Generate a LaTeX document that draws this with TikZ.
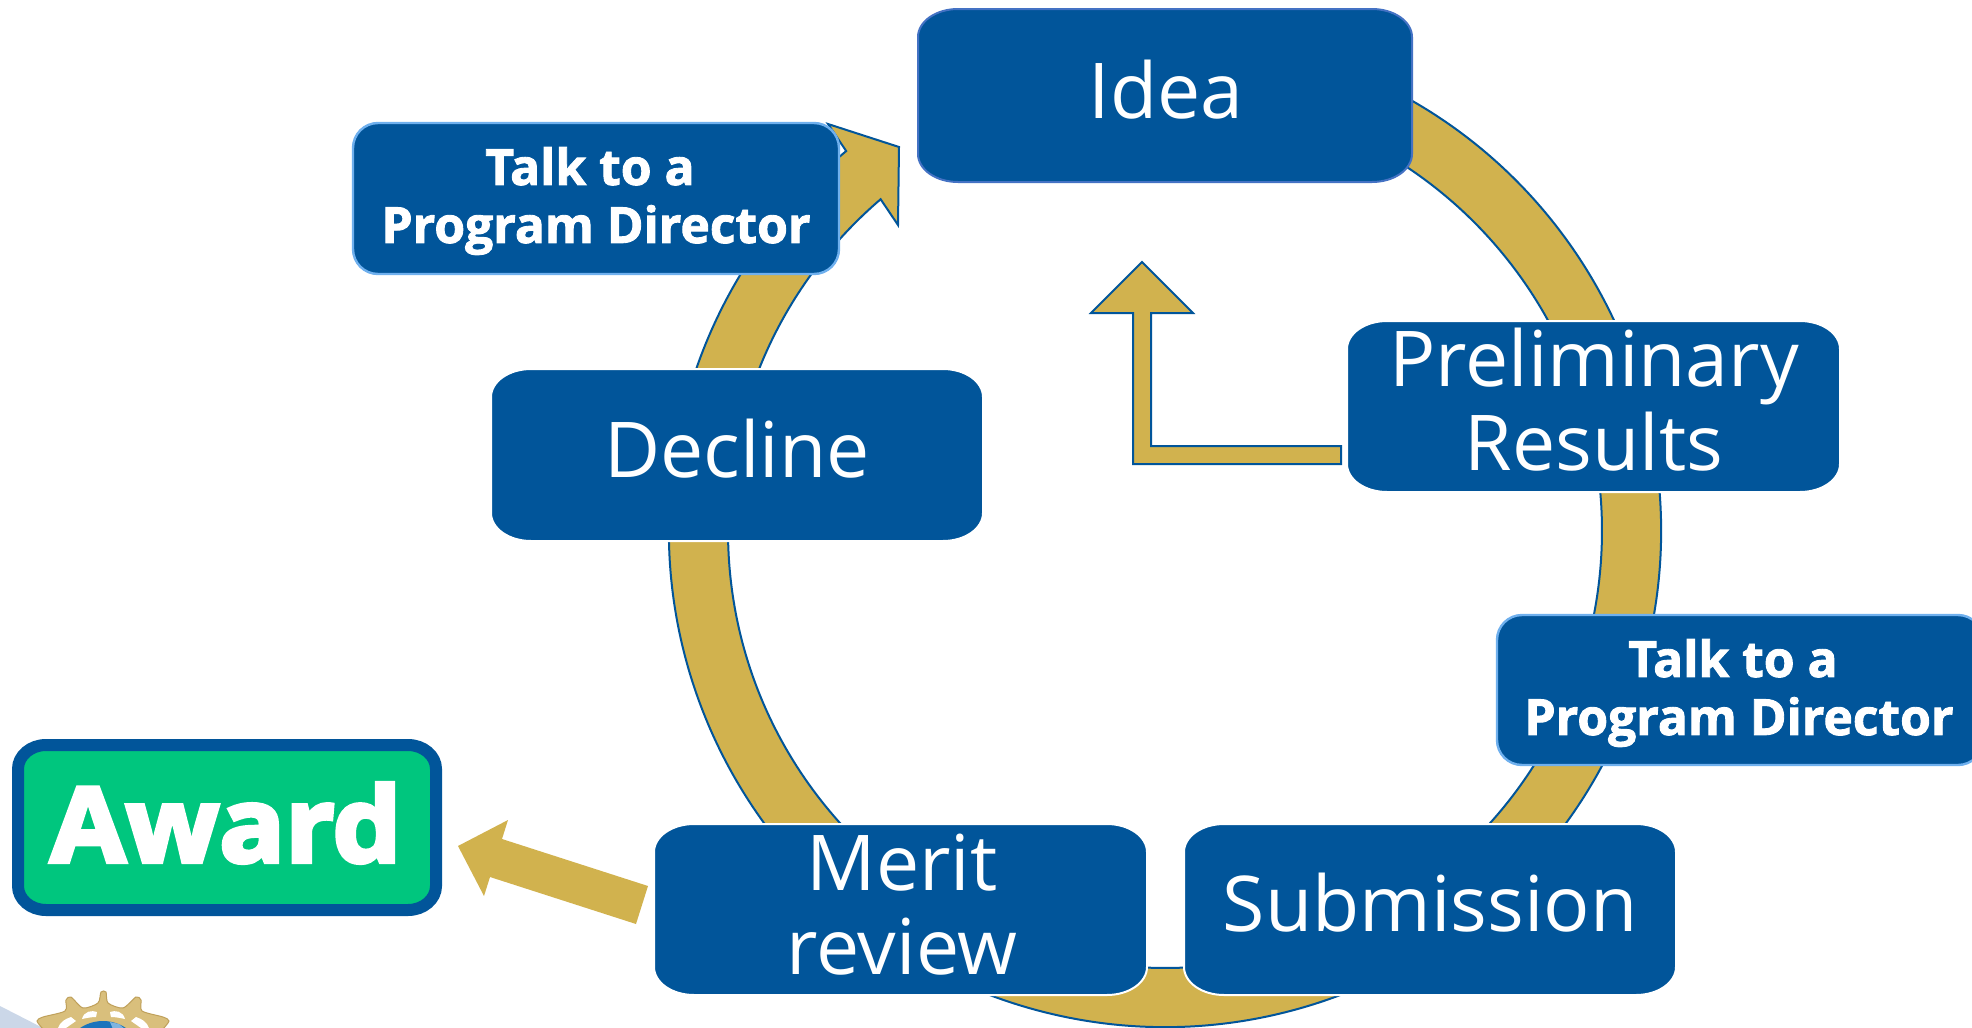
\documentclass[tikz,border=0pt]{standalone}
\usepackage{fontspec}
\usetikzlibrary{calc}
\setmainfont{Open Sans}
\newfontfamily\heavyfont[FakeBold=1.8]{Open Sans}
\newfontfamily\blackfont[FakeBold=4,FakeStretch=1.05]{Open Sans}
\definecolor{nsfblue}{HTML}{01559A}
\definecolor{nsfgold}{HTML}{D1B24E}
\definecolor{nsfgreen}{HTML}{00C67E}
\definecolor{ideaedge}{HTML}{4472C4}
\definecolor{talkedge}{HTML}{6FB0EE}
\definecolor{wedge}{HTML}{CBD7E8}
\definecolor{geargold}{HTML}{D9BF7C}
\definecolor{gearedge}{HTML}{BFA05A}
\definecolor{globeblue}{HTML}{1A74BC}
\definecolor{globelight}{HTML}{7FB4E0}
\tikzset{
  ringshape/.style={fill=nsfgold,draw=nsfblue,line width=1pt,line join=miter},
  bigbox/.style={fill=nsfblue,draw=white,line width=1pt},
  ideabox/.style={fill=nsfblue,draw=ideaedge,line width=1pt},
  talkbox/.style={fill=nsfblue,draw=talkedge,line width=1.2pt},
  bigtext/.style={text=white,font=\fontsize{38.5}{42}\selectfont,align=center,inner sep=0pt},
  talktext/.style={text=white,font=\heavyfont\bfseries\fontsize{24.9}{29}\selectfont,align=center,inner sep=0pt},
}
\newcommand{\rbox}[7]{%
  \draw[#1] ({#2+#6},#3) -- ({#4-#6},#3)
    arc[start angle=-90,end angle=0,x radius=#6,y radius=#7]
    -- (#4,{#5-#7}) arc[start angle=0,end angle=90,x radius=#6,y radius=#7]
    -- ({#2+#6},#5) arc[start angle=90,end angle=180,x radius=#6,y radius=#7]
    -- (#2,{#3+#7}) arc[start angle=180,end angle=270,x radius=#6,y radius=#7]
    -- cycle;}
\begin{document}
\begin{tikzpicture}[x=0.5pt,y=0.5pt,yscale=-1]
\useasboundingbox[fill=white] (0,0) rectangle (1972,1028);
% logo
\fill[wedge] (0,1006) -- (43,1028) -- (0,1028) -- cycle;
\fill[fill=geargold,draw=gearedge,line width=0.5pt]
  plot[smooth,tension=0.45] coordinates {(43,1029) (37,1021) (43,1017) (65,1011) (66,1000) (71,997) (83,1008) (98,1003) (101,992) (106,992) (108,1003) (123,1008) (136,997) (141,1000) (142,1011) (163,1017) (169,1021) (163,1029)};
\fill[white] (82,1019) .. controls (84,1011) and (92,1010) .. (97,1012) -- (96,1017) .. controls (91,1017) and (87,1018) .. (82,1019) -- cycle;
\fill[white] (125,1019) .. controls (123,1011) and (115,1010) .. (110,1012) -- (111,1017) .. controls (116,1017) and (120,1018) .. (125,1019) -- cycle;
\fill[white] (58,1028) .. controls (60,1022) and (65,1019) .. (71,1017) -- (76,1021) -- (66,1028) -- cycle;
\fill[white] (149,1028) .. controls (147,1022) and (142,1019) .. (136,1017) -- (131,1021) -- (141,1028) -- cycle;
\fill[globeblue] (103,1062) circle[radius=41];
\fill[globelight] (110,1022) -- (119,1024) -- (126,1030) -- (113,1029) -- cycle;
% cycle arrow
\coordinate (c) at (1165,531);
\coordinate (tipa) at (828,124);
\coordinate (tipb) at (899,147);
\coordinate (tipc) at (898,225);
\draw[ringshape] ($(c)+(-72:496)$) arc[start angle=-72,end angle=230,radius=496]
  -- (tipa) -- (tipb) -- (tipc)
  -- ($(c)+(229.4:437)$) arc[start angle=229.4,end angle=-72,radius=437] -- cycle;
% bent arrow
\draw[ringshape] (1341,446) -- (1151,446) -- (1151,313) -- (1193,313) -- (1142,262) -- (1091,313) -- (1133,313) -- (1133,464) -- (1341,464) -- cycle;
% award arrow
\fill[nsfgold] (458,846) -- (508,820) -- (502,839) -- (648,886) -- (636,924) -- (490,877) -- (484,896) -- cycle;
% boxes
\rbox{ideabox}{918}{9}{1412}{182}{40}{28}
\node[bigtext] (idea) at (1166,90) {Idea};
\rbox{bigbox}{1347}{321}{1840}{492}{40}{28}
\node[bigtext] (prelim) at (1594,400) {Preliminary\\Results};
\rbox{talkbox}{1497}{615}{1983}{765}{25}{25}
\node[talktext] (talkb) at (1739,693) {Talk to a\hspace*{6pt}\\Program Director};
\rbox{bigbox}{1184}{824}{1676}{995}{40}{28}
\node[bigtext] (subm) at (1430,903) {Submission};
\rbox{bigbox}{654}{824}{1147}{995}{40}{28}
\node[bigtext] (merit) at (902,905) {Merit\\review};
\rbox{bigbox}{491}{369}{983}{541}{40}{28}
\node[bigtext] (decl) at (737,449) {Decline};
\rbox{talkbox}{353}{123}{839}{274}{25}{25}
\node[talktext] (talka) at (596,201) {Talk to a\hspace*{6pt}\\Program Director};
% award
\rbox{fill=nsfgreen,draw=nsfblue,line width=6pt}{18}{745}{436}{910}{28}{24}
\node[text=white,inner sep=0pt,font=\blackfont\bfseries\fontsize{52}{52}\selectfont] (award) at (226,823) {Award};
\end{tikzpicture}
\end{document}
